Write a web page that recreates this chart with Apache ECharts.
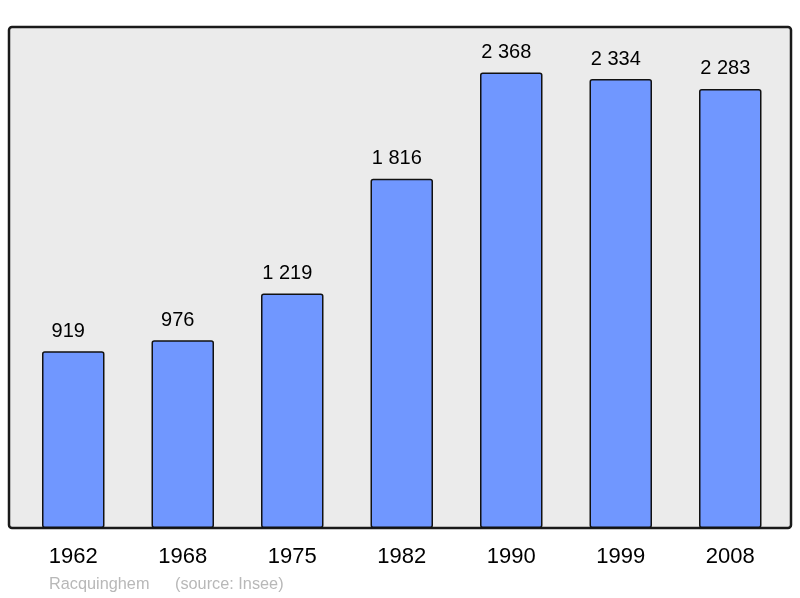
<!DOCTYPE html>
<html>
<head>
<meta charset="utf-8">
<script src="https://cdn.jsdelivr.net/npm/echarts@6/dist/echarts.min.js"></script>
<style>
html,body{margin:0;padding:0;background:#fff;}
#chart{width:800px;height:598px;}
</style>
</head>
<body>
<div id="chart"></div>
<script>
var years = ['1962', '1968', '1975', '1982', '1990', '1999', '2008'];
var population = [919, 976, 1219, 1816, 2368, 2334, 2283];
var townName = 'Racquinghem';
var sourceText = '(source: Insee)';

function fmt(v) {
  return String(v).replace(/\B(?=(\d{3})+(?!\d))/g, ' ');
}

var chart = echarts.init(document.getElementById('chart'), null, {renderer: 'canvas'});
chart.setOption({
  backgroundColor: '#ffffff',
  animation: false,
  graphic: [
    {
      type: 'rect',
      z: -10,
      shape: {x: 9, y: 27, width: 782, height: 501, r: 3},
      style: {fill: '#ebebeb', stroke: '#1a1a1a', lineWidth: 2.5}
    },
    {
      type: 'text',
      left: 49, top: 577,
      style: {text: townName, fill: '#b8b8b8', font: '16.3px "Liberation Sans", Arial, sans-serif'}
    },
    {
      type: 'text',
      left: 175, top: 577,
      style: {text: sourceText, fill: '#b8b8b8', font: '16.3px "Liberation Sans", Arial, sans-serif'}
    }
  ],
  grid: {left: 18.5, width: 766.5, top: 27, height: 501, containLabel: false},
  xAxis: {
    type: 'category',
    data: years,
    axisLine: {show: false},
    axisTick: {show: false},
    axisLabel: {
      margin: 18,
      fontSize: 22,
      color: '#000',
      fontFamily: '"Liberation Sans", Arial, sans-serif'
    }
  },
  yAxis: {
    type: 'value',
    min: 0,
    max: 2605,
    show: false,
    splitLine: {show: false}
  },
  series: [{
    type: 'bar',
    data: population,
    barWidth: 62.5,
    itemStyle: {
      color: '#7097ff',
      borderColor: '#111',
      borderWidth: 1.5,
      borderRadius: 2
    },
    label: {
      show: true,
      position: 'top',
      distance: 10,
      offset: [-5, 0],
      fontSize: 20,
      color: '#000',
      fontFamily: '"Liberation Sans", Arial, sans-serif',
      formatter: function (p) { return fmt(p.value); }
    }
  }]
});
</script>
</body>
</html>
